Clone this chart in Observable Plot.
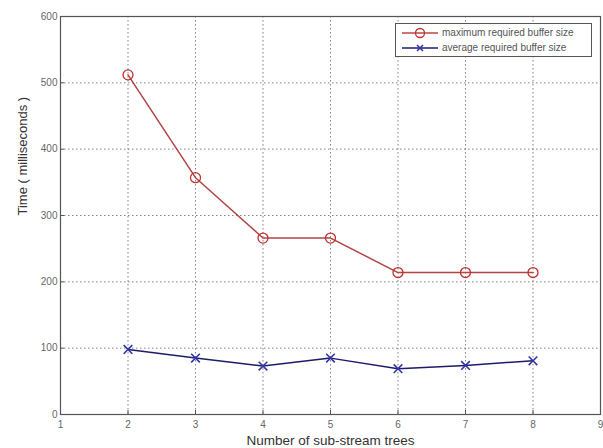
<!DOCTYPE html>
<html><head><meta charset="utf-8">
<script src="https://cdn.jsdelivr.net/npm/d3@7"></script>
<script src="https://cdn.jsdelivr.net/npm/@observablehq/plot@0.6"></script>
<style>
body{margin:0;background:#fff;font-family:Arial,"Liberation Sans",sans-serif;}
#wrap{position:relative;width:603px;height:448px;}
#legend{position:absolute;left:395px;top:23px;width:197px;height:34px;border:1px solid #555;background:#fff;font-size:10px;color:#555;box-sizing:border-box;padding-top:1px;}
#legend .row{display:flex;align-items:center;height:15px;padding-left:5px;white-space:nowrap;}
#legend svg{margin-right:3px;}
</style></head><body>
<div id="wrap"><div id="chart"></div>
<div id="legend">
<div class="row"><svg width="38" height="12"><line x1="1" x2="37" y1="6" y2="6" stroke="#c04545" stroke-width="1.5"/><circle cx="19" cy="6" r="4.5" fill="none" stroke="#c03030" stroke-width="1.3"/></svg>maximum required buffer size</div>
<div class="row"><svg width="38" height="12"><line x1="1" x2="37" y1="6" y2="6" stroke="#1c1c6a" stroke-width="1.5"/><path d="M16,3L22,9M22,3L16,9" stroke="#3535a5" stroke-width="1.6"/></svg>average required buffer size</div>
</div></div>
<script>
const trees = [2, 3, 4, 5, 6, 7, 8];
const maxBuffer = [512, 357, 266, 266, 214, 214, 214];
const avgBuffer = [98, 85, 73, 85, 69, 74, 81];
const xTicks = [1, 2, 3, 4, 5, 6, 7, 8, 9];
const yTicks = [0, 100, 200, 300, 400, 500, 600];

const maxData = trees.map((t, i) => ({x: t, y: maxBuffer[i]}));
const avgData = trees.map((t, i) => ({x: t, y: avgBuffer[i]}));

const chart = Plot.plot({
  width: 603, height: 448,
  marginLeft: 60, marginRight: 3, marginTop: 16, marginBottom: 34,
  style: {fontFamily: "Arial, 'Liberation Sans', sans-serif", fontSize: "10px", color: "#444", background: "#fff"},
  x: {domain: [1, 9]},
  y: {domain: [0, 600]},
  marks: [
    Plot.gridX(xTicks, {stroke: "#333", strokeOpacity: 0.6, strokeDasharray: "1.5,2.5"}),
    Plot.gridY(yTicks, {stroke: "#333", strokeOpacity: 0.6, strokeDasharray: "1.5,2.5"}),
    Plot.frame({stroke: "#555", strokeWidth: 1.2}),
    Plot.axisX(xTicks, {tickSize: -4, tickPadding: 10, fontSize: 10, fill: "#666", stroke: "#555", label: null}),
    Plot.axisY(yTicks, {tickSize: -4, tickPadding: 7, fontSize: 10, fill: "#666", stroke: "#555", label: null}),
    Plot.text(["Number of sub-stream trees"], {frameAnchor: "bottom", dy: 30, fontSize: 13.5, fill: "#333"}),
    Plot.text(["Time ( milliseconds )"], {frameAnchor: "left", dx: -38, rotate: -90, fontSize: 13, fill: "#333"}),
    Plot.line(maxData, {x: "x", y: "y", stroke: "#b04545", strokeWidth: 1.5}),
    Plot.dot(maxData, {x: "x", y: "y", r: 5, stroke: "#c03030", strokeWidth: 1.3, fill: "none"}),
    Plot.line(avgData, {x: "x", y: "y", stroke: "#1c1c6a", strokeWidth: 1.5}),
    Plot.dot(avgData, {x: "x", y: "y", symbol: "times", r: 4, stroke: "#3535a5", strokeWidth: 1.6})
  ]
});
document.getElementById("chart").appendChild(chart);
</script>
</body></html>
